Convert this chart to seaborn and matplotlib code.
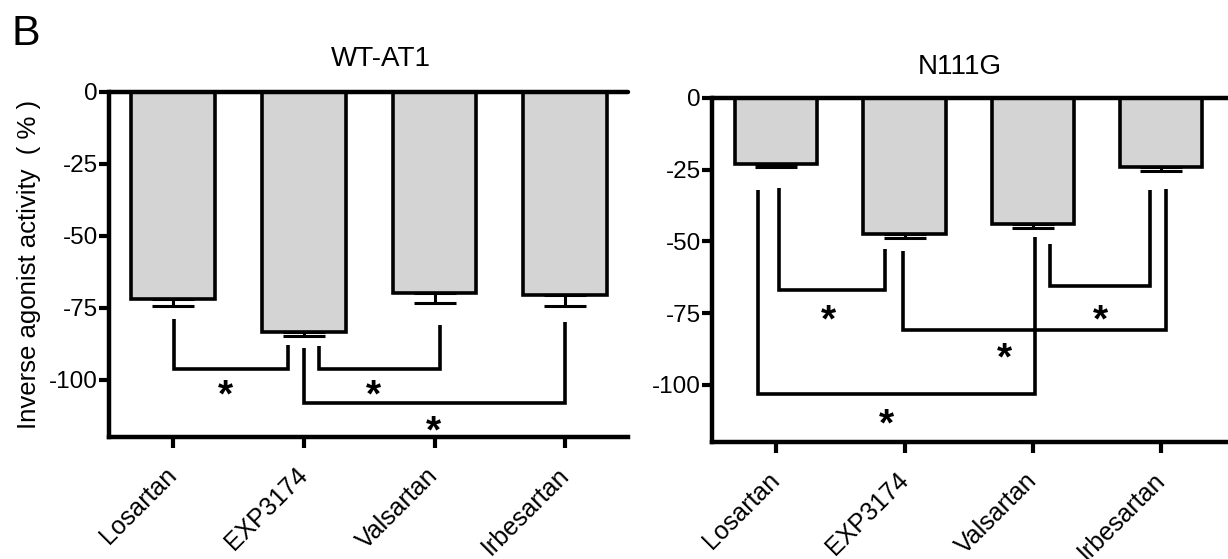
import pandas as pd
import numpy as np
import seaborn as sns
import matplotlib.pyplot as plt

sns.set_theme(style="ticks")
plt.rcParams['font.family'] = ['Liberation Sans', 'DejaVu Sans']
plt.rcParams['text.color'] = 'black'
plt.rcParams['axes.labelcolor'] = 'black'
plt.rcParams['axes.unicode_minus'] = False

# datos
farmacos = ["Losartan", "EXP3174", "Valsartan", "Irbesartan"]
wt_media = [-72, -83.5, -70, -70.5]
wt_sem = [2.5, 1.5, 3.5, 4.0]
n111g_media = [-23, -47.5, -44, -24]
n111g_sem = [1.0, 1.5, 1.5, 1.5]

# corchetes de significancia: (x1, x2, y1, y2, ybase, x_estrella, y_estrella)
wt_corchetes = [
    (0.01, 0.88, -79, -88, -96.5, 0.40, -102),
    (1.12, 2.04, -88.5, -81, -96.5, 1.53, -102),
    (1.0, 3.0, -89, -80, -108, 1.99, -114.5),
]
n111g_corchetes = [
    (0.02, 0.85, -31.5, -52.5, -67, 0.41, -74),
    (2.13, 2.91, -51, -32, -65.5, 2.53, -74),
    (0.99, 3.04, -53.5, -31.7, -81, 1.78, -87.5),
    (-0.14, 2.02, -32, -48.5, -103.3, 0.86, -110.5),
]

W, H = 1228, 559
fig = plt.figure(figsize=(W / 100, H / 100), dpi=100)
ax1 = fig.add_axes([109 / W, 1 - 437 / H, (628 - 109) / W, (437 - 92) / H])
ax2 = fig.add_axes([712 / W, 1 - 442 / H, (1228 - 712) / W, (442 - 98) / H])


def panel(ax, media, sem, corchetes, titulo, tx, pad, xlim):
    df = pd.DataFrame({"farmaco": farmacos, "valor": media})
    sns.barplot(data=df, x="farmaco", y="valor", ax=ax, color="#d4d4d4",
                width=0.64, edgecolor="black", linewidth=2.6,
                errorbar=None, saturation=1)
    ax.errorbar(np.arange(len(media)), media, yerr=[sem, np.zeros(len(sem))],
                fmt="none", ecolor="black", elinewidth=2.2, capsize=15,
                capthick=2.2, zorder=3)
    ax.axhline(0, color="black", lw=3.2, zorder=4, clip_on=False)
    for x1, x2, y1, y2, yb, sx, sy in corchetes:
        ax.plot([x1, x1, x2, x2], [y1, yb, yb, y2], color="black", lw=2.6,
                solid_joinstyle="miter", solid_capstyle="butt", zorder=3)
        ax.annotate("*", xy=(sx, sy), xytext=(0, -8), textcoords="offset points",
                    ha="center", va="center", fontsize=28, fontweight="bold")
    ax.set_xlim(*xlim)
    ax.set_ylim(-120, 0)
    ax.set_yticks([0, -25, -50, -75, -100])
    ax.set_xlabel("")
    ax.set_ylabel("")
    ax.set_title(titulo, fontsize=20, x=tx, pad=pad, color="black")
    sns.despine(ax=ax, top=True, right=True)
    for s in ["left", "bottom"]:
        ax.spines[s].set_linewidth(3.2)
        ax.spines[s].set_color("black")
    ax.tick_params(axis="y", length=7, width=3, pad=1, labelsize=17.5, colors="black")
    ax.tick_params(axis="x", length=8, width=3, pad=17, labelsize=18, colors="black")
    for lab in ax.get_xticklabels():
        lab.set_rotation(45)
        lab.set_ha("right")
        lab.set_va("center")
        lab.set_rotation_mode("anchor")


panel(ax1, wt_media, wt_sem, wt_corchetes, "WT-AT1", 0.524, 19, (-0.49, 3.48))
panel(ax2, n111g_media, n111g_sem, n111g_corchetes, "N111G", 0.48, 17, (-0.5, 3.52))

ax1.set_ylabel("Inverse agonist activity  ( % )", fontsize=18.5, labelpad=6)
fig.text(12 / W, 1 - 45 / H, "B", fontsize=31)

fig.savefig("out.png", dpi=100)
